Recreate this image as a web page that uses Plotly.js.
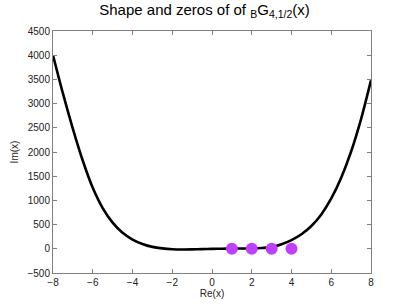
<!DOCTYPE html>
<html>
<head>
<meta charset="utf-8">
<script src="https://cdn.plot.ly/plotly-3.0.1.min.js"></script>
<style>html,body{margin:0;padding:0;background:#fff;}#chart{width:409px;height:307px;}</style>
</head>
<body>
<div id="chart"></div>
<script>
// Shape of the curve
const curveX = [-8,-7.5,-7,-6.5,-6,-5.5,-5,-4.5,-4,-3.5,-3,-2.5,-2,-1.5,-1,-0.5,0,0.5,1,1.5,2,2.5,3,3.5,4,4.5,5,5.5,6,6.5,7,7.5,8];
const curveY = [4000,3210,2480,1820,1260,840,540,330,190,100,40,8,-10,-15,-12,-6,-2,2,4,6,10,18,35,95,180,300,470,710,1040,1470,2010,2680,3480];
// Zeros
const zerosRe = [1,2,3,4];
const zerosIm = [0,0,0,0];
const xTicks = [-8,-6,-4,-2,0,2,4,6,8];
const yTicks = [-500,0,500,1000,1500,2000,2500,3000,3500,4000,4500];

const fontFam = '"Liberation Sans", Arial, sans-serif';
const axCommon = {
  showgrid:false, zeroline:false, showline:true, mirror:'ticks',
  linecolor:'#808080', linewidth:1, ticks:'inside', ticklen:4, tickcolor:'#808080',
  tickfont:{family:fontFam, size:10, color:'#222'}
};
const traces = [
  {x:curveX, y:curveY, mode:'lines', line:{color:'#000', width:2.6, shape:'spline', smoothing:0.8}, hoverinfo:'skip'},
  {x:zerosRe, y:zerosIm, mode:'markers', marker:{color:'#bf3fff', size:12}}
];
const layout = {
  width:409, height:307,
  margin:{l:53, r:38, t:31, b:34},
  paper_bgcolor:'#fff', plot_bgcolor:'#fff',
  showlegend:false,
  title:{text:'Shape and zeros of of <sub>B</sub>G<sub>4,1/2</sub>(x)', font:{family:fontFam, size:15, color:'#000'}, x:0.5, xanchor:'center', y:0.985, yanchor:'top'},
  xaxis:Object.assign({}, axCommon, {range:[-8,8], tickvals:xTicks, ticktext:xTicks.map(v=>v<0?'\u2212'+(-v):String(v)),
    title:{text:'Re(x)', font:{family:fontFam, size:10, color:'#222'}, standoff:2}}),
  yaxis:Object.assign({}, axCommon, {range:[-500,4500], tickvals:yTicks, ticktext:yTicks.map(v=>v<0?'\u2212'+(-v):String(v)),
    title:{text:'Im(x)', font:{family:fontFam, size:10, color:'#222'}, standoff:6}})
};
Plotly.newPlot('chart', traces, layout, {staticPlot:true, displayModeBar:false});
</script>
</body>
</html>
